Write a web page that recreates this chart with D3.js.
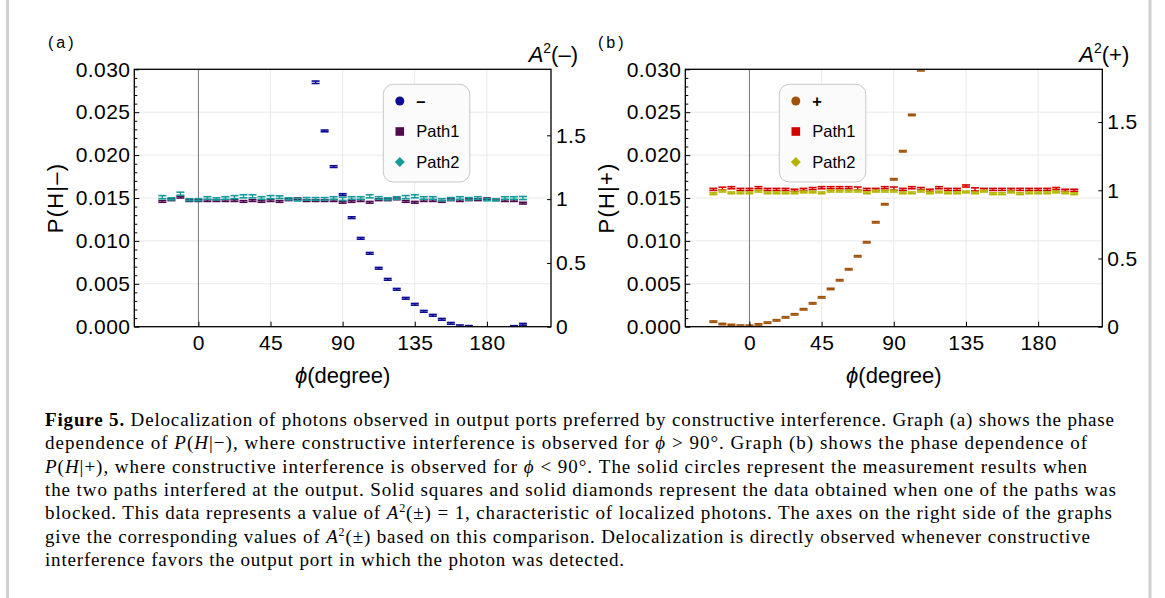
<!DOCTYPE html>
<html>
<head>
<meta charset="utf-8">
<script src="https://cdn.jsdelivr.net/npm/d3@7"></script>
<style>
  body { margin: 0; background: #fff; }
  svg text { font-family: "Liberation Sans", Arial, sans-serif; }
</style>
</head>
<body>
<div class="figure"></div>
<script>
'use strict';

// phase settings (degrees)
var phi = [-22.5, -16.875, -11.25, -5.625, 0, 5.625, 11.25, 16.875, 22.5, 28.125,
  33.75, 39.375, 45, 50.625, 56.25, 61.875, 67.5, 73.125, 78.75, 84.375,
  90, 95.625, 101.25, 106.875, 112.5, 118.125, 123.75, 129.375, 135, 140.625,
  146.25, 151.875, 157.5, 163.125, 168.75, 174.375, 180, 185.625, 191.25, 196.875,
  202.5];

// panel (a): P(H|-)
var minusVals = [null, null, null, null, null, null, null, null, null, null,
  null, null, null, null, null, null, null, 0.02849, 0.02282, 0.01866,
  0.01540, 0.01271, 0.01030, 0.00855, 0.00681, 0.00552, 0.00436, 0.00331, 0.00261, 0.00179,
  0.00133, 0.00086, 0.00039, 0.00010, 0.00003, null, null, null, null, 0.00002,
  0.00028];
var minusErr = [0.0001, 0.0001, 0.0001, 0.0001, 0.0001, 0.0001, 0.0001, 0.0001, 0.0001, 0.0001,
  0.0001, 0.0001, 0.0001, 0.0001, 0.0001, 0.0001, 0.0001, 0.00014, 0.0001, 0.0001,
  0.0001, 0.0001, 0.0001, 0.0001, 0.0001, 0.0001, 0.0001, 0.0001, 0.0001, 0.0001,
  0.0001, 0.0001, 0.0001, 0.0001, 0.0001, 0.0001, 0.0001, 0.0001, 0.0001, 0.0001,
  0.0001];
var path1A = [0.0146, 0.0148, 0.0151, 0.0147, 0.0147, 0.0147, 0.0147, 0.0147, 0.0147, 0.0146,
  0.0147, 0.0146, 0.0147, 0.0146, 0.0148, 0.0149, 0.0147, 0.0147, 0.0147, 0.0147,
  0.0145, 0.0146, 0.0147, 0.0145, 0.0148, 0.0148, 0.0149, 0.0146, 0.0145, 0.0147,
  0.0147, 0.0146, 0.0148, 0.0147, 0.0148, 0.0148, 0.0149, 0.0148, 0.0147, 0.0147,
  0.0144];
var path1AErr = [0.0001, 0.0001, 0.0001, 0.0001, 0.0001, 0.0001, 0.0001, 0.0001, 0.0001, 0.0001,
  0.0001, 0.0001, 0.0001, 0.0001, 0.0001, 0.0001, 0.0001, 0.0001, 0.0001, 0.0001,
  0.0001, 0.0001, 0.0001, 0.0001, 0.0001, 0.0001, 0.0001, 0.0001, 0.0001, 0.0001,
  0.0001, 0.0001, 0.0001, 0.0001, 0.0001, 0.0001, 0.0001, 0.0001, 0.0001, 0.0001,
  0.0001];
var path2A = [0.0151, 0.0149, 0.0155, 0.0148, 0.0148, 0.0150, 0.0149, 0.0150, 0.0151, 0.0152,
  0.0152, 0.0150, 0.0151, 0.0151, 0.0149, 0.0148, 0.0149, 0.0149, 0.0149, 0.0150,
  0.0149, 0.0150, 0.0150, 0.0152, 0.0150, 0.0149, 0.0150, 0.0151, 0.0152, 0.0150,
  0.0150, 0.0148, 0.0149, 0.0150, 0.0149, 0.0150, 0.0148, 0.0148, 0.0150, 0.0150,
  0.0150];
var path2AErr = [0.00018, 0.00012, 0.00018, 0.00012, 0.00012, 0.00015, 0.00012, 0.00015, 0.00018, 0.00018,
  0.00018, 0.00015, 0.00018, 0.00015, 0.00012, 0.00015, 0.00015, 0.00015, 0.00015, 0.00015,
  0.00018, 0.00015, 0.00015, 0.00018, 0.00015, 0.00012, 0.00015, 0.00018, 0.00018, 0.00015,
  0.00015, 0.00012, 0.00015, 0.00015, 0.00015, 0.00015, 0.00012, 0.00012, 0.00015, 0.00015,
  0.00018];

// panel (b): P(H|+)
var plusVals = [0.00059, 0.00031, 0.00020, 0.00012, 0.00011, 0.00027, 0.00047, 0.00074, 0.00109, 0.00144,
  0.00203, 0.00272, 0.00342, 0.00440, 0.00541, 0.00669, 0.00821, 0.00984, 0.01217, 0.01427,
  0.01718, 0.02045, 0.02468, 0.02989, null, null, null, null, null, null,
  null, null, null, null, null, null, null, null, null, null,
  null];
var plusErr = [0.00008, 0.00008, 0.00008, 0.00008, 0.00008, 0.00008, 0.00008, 0.00008, 0.00008, 0.00008,
  0.00008, 0.00008, 0.00008, 0.00008, 0.00008, 0.00008, 0.00008, 0.00008, 0.00008, 0.00008,
  0.00008, 0.00008, 0.00008, 0.00008, 0.00008, 0.00008, 0.00008, 0.00008, 0.00008, 0.00008,
  0.00008, 0.00008, 0.00008, 0.00008, 0.00008, 0.00008, 0.00008, 0.00008, 0.00008, 0.00008,
  0.00008];
var path1B = [0.0160, 0.0161, 0.0162, 0.0160, 0.0160, 0.0162, 0.0160, 0.0160, 0.0160, 0.0159,
  0.0160, 0.0161, 0.0162, 0.0162, 0.0162, 0.0162, 0.0161, 0.0160, 0.0160, 0.0162,
  0.0161, 0.0160, 0.0162, 0.0161, 0.0159, 0.0162, 0.0160, 0.0160, 0.0164, 0.0160,
  0.0160, 0.0160, 0.0160, 0.0160, 0.0160, 0.0160, 0.0160, 0.0160, 0.0161, 0.0159,
  0.0159];
var path1BErr = [0.00012, 0.00016, 0.00012, 0.00012, 0.00012, 0.00012, 0.00012, 0.00012, 0.00012, 0.00012,
  0.00012, 0.00012, 0.00012, 0.00012, 0.00012, 0.00012, 0.00018, 0.00012, 0.00012, 0.00012,
  0.00018, 0.00012, 0.00012, 0.00012, 0.00012, 0.00012, 0.00012, 0.00012, 0.00012, 0.00018,
  0.00012, 0.00012, 0.00012, 0.00012, 0.00012, 0.00012, 0.00012, 0.00012, 0.00012, 0.00012,
  0.00012];
var path2B = [0.0155, 0.0158, 0.0156, 0.0156, 0.0156, 0.0158, 0.0156, 0.0156, 0.0156, 0.0156,
  0.0157, 0.0157, 0.0156, 0.0158, 0.0158, 0.0158, 0.0158, 0.0156, 0.0158, 0.0158,
  0.0158, 0.0156, 0.0156, 0.0158, 0.0156, 0.0157, 0.0156, 0.0156, 0.0157, 0.0156,
  0.0158, 0.0155, 0.0155, 0.0157, 0.0155, 0.0156, 0.0156, 0.0156, 0.0157, 0.0156,
  0.0155];
var path2BErr = [0.0001, 0.0001, 0.0001, 0.0001, 0.0001, 0.0001, 0.0001, 0.0001, 0.0001, 0.0001,
  0.0001, 0.0001, 0.0001, 0.0001, 0.0001, 0.0001, 0.0001, 0.0001, 0.0001, 0.0001,
  0.0001, 0.0001, 0.0001, 0.0001, 0.0001, 0.0001, 0.0001, 0.0001, 0.0001, 0.0001,
  0.0001, 0.0001, 0.0001, 0.0001, 0.0001, 0.0001, 0.0001, 0.0001, 0.0001, 0.0001,
  0.0001];

// axes
var phiDomain = [-40, 220];
var phiTicks = [0, 45, 90, 135, 180];
var probDomain = [0, 0.030];
var probTicks = [0, 0.005, 0.010, 0.015, 0.020, 0.025, 0.030];
var ampTicks = [0, 0.5, 1, 1.5];
var normA = 0.01487;   // P value that corresponds to A^2(-) = 1
var normB = 0.0159;    // P value that corresponds to A^2(+) = 1

var legendA = ['\u2013', 'Path1', 'Path2'];
var legendB = ['+', 'Path1', 'Path2'];

// caption lines: [text, style] segments
var captionLines = [
  [['Figure 5.', 'b'], [' Delocalization of photons observed in output ports preferred by constructive interference. Graph (a) shows the phase', '']],
  [['dependence of ', ''], ['P', 'i'], ['(', ''], ['H', 'i'], ['|\u2212), where constructive interference is observed for ', ''], ['\u03d5', 'i'], [' > 90\u00b0. Graph (b) shows the phase dependence of', '']],
  [['P', 'i'], ['(', ''], ['H', 'i'], ['|+), where constructive interference is observed for ', ''], ['\u03d5', 'i'], [' < 90\u00b0. The solid circles represent the measurement results when', '']],
  [['the two paths interfered at the output. Solid squares and solid diamonds represent the data obtained when one of the paths was', '']],
  [['blocked. This data represents a value of ', ''], ['A', 'i'], ['2', 's'], ['(\u00b1) = 1, characteristic of localized photons. The axes on the right side of the graphs', '']],
  [['give the corresponding values of ', ''], ['A', 'i'], ['2', 's'], ['(\u00b1) based on this comparison. Delocalization is directly observed whenever constructive', '']],
  [['interference favors the output port in which the photon was detected.', '']]
];
var captionWidths = [1069, 1042, 1042, 1071, 1067, 1045, 579];

(function() {
  var W = 1165;
  var H = 598;
  var top = 69.3;
  var bottom = 326.7;
  var capW = 8;
  var capT = 1.6;

  var svg = d3.select('.figure')
    .append('svg')
    .attr('width', W)
    .attr('height', H);

  // figure frame
  svg.append('line').attr('x1', 7.5).attr('x2', 7.5).attr('y1', 0).attr('y2', H)
    .attr('stroke', '#d0d0d0').attr('stroke-width', 3);
  svg.append('line').attr('x1', 1150).attr('x2', 1150).attr('y1', 0).attr('y2', H)
    .attr('stroke', '#d0d0d0').attr('stroke-width', 3);

  var drawSeries = function(g, x, y, vals, errs, color) {
    var pts = phi.map(function(p, i) {
      return { x: p, v: vals[i], e: errs[i] };
    }).filter(function(d) { return d.v !== null; });

    var s = g.append('g').attr('fill', color)
      .selectAll('g')
      .data(pts)
      .enter()
      .append('g');

    s.append('rect')
      .attr('x', function(d) { return x(d.x) - capW / 2; })
      .attr('y', function(d) { return y(d.v + d.e) - capT / 2; })
      .attr('width', capW)
      .attr('height', capT);
    s.append('rect')
      .attr('x', function(d) { return x(d.x) - capW / 2; })
      .attr('y', function(d) { return y(d.v - d.e) - capT / 2; })
      .attr('width', capW)
      .attr('height', capT);
    s.append('rect')
      .attr('x', function(d) { return x(d.x) - 0.7; })
      .attr('y', function(d) { return y(d.v + d.e); })
      .attr('width', 1.4)
      .attr('height', function(d) { return y(d.v - d.e) - y(d.v + d.e); });
  };

  var drawPanel = function(cfg) {
    var x = d3.scaleLinear().domain(phiDomain).range([cfg.left, cfg.right]);
    var y = d3.scaleLinear().domain(probDomain).range([bottom, top]);
    var yA = d3.scaleLinear().domain([0, probDomain[1] / cfg.norm]).range([bottom, top]);

    var g = svg.append('g');

    // grid
    g.append('g').selectAll('line')
      .data(phiTicks.filter(function(d) { return d !== 0; }))
      .enter().append('line')
      .attr('x1', x).attr('x2', x)
      .attr('y1', top).attr('y2', bottom)
      .attr('stroke', '#e9e9e9').attr('stroke-width', 1);
    g.append('g').selectAll('line')
      .data(probTicks.slice(1, -1))
      .enter().append('line')
      .attr('x1', cfg.left).attr('x2', cfg.right)
      .attr('y1', y).attr('y2', y)
      .attr('stroke', '#e9e9e9').attr('stroke-width', 1);
    // phi = 0 line
    g.append('line')
      .attr('x1', x(0)).attr('x2', x(0))
      .attr('y1', top).attr('y2', bottom)
      .attr('stroke', '#777').attr('stroke-width', 1);

    // data
    var clipId = 'clip-' + cfg.name;
    svg.append('clipPath').attr('id', clipId)
      .append('rect')
      .attr('x', cfg.left).attr('y', top)
      .attr('width', cfg.right - cfg.left).attr('height', bottom - top);
    var data = g.append('g').attr('clip-path', 'url(#' + clipId + ')');
    drawSeries(data, x, y, cfg.p1, cfg.p1Err, cfg.colors[1]);
    drawSeries(data, x, y, cfg.p2, cfg.p2Err, cfg.colors[2]);
    drawSeries(data, x, y, cfg.main, cfg.mainErr, cfg.colors[0]);

    // axes
    var fmt = d3.format('.3f');
    var yAxis = g.append('g')
      .attr('transform', 'translate(' + cfg.left + ',0)')
      .call(d3.axisLeft(y).tickValues(probTicks).tickSize(-5).tickPadding(4).tickFormat(fmt));
    g.append('g')
      .attr('transform', 'translate(' + cfg.left + ',0)')
      .call(d3.axisLeft(y)
        .tickValues(d3.range(0, 31).map(function(i) { return i / 1000; })
          .filter(function(v, i) { return i % 5 !== 0; }))
        .tickSize(-3).tickFormat(''));
    var xAxis = g.append('g')
      .attr('transform', 'translate(0,' + bottom + ')')
      .call(d3.axisBottom(x).tickValues(phiTicks).tickSize(-5).tickPadding(8));
    var aAxis = g.append('g')
      .attr('transform', 'translate(' + cfg.right + ',0)')
      .call(d3.axisRight(yA).tickValues(ampTicks).tickSize(-4).tickPadding(5)
        .tickFormat(function(d) { return String(d); }));

    g.selectAll('.domain').remove();
    g.selectAll('.tick line').attr('stroke', '#000');
    [yAxis, xAxis, aAxis].forEach(function(a) {
      a.selectAll('text')
        .attr('fill', '#000')
        .style('font-size', '21px')
        .style('letter-spacing', '0.4px');
    });

    // frame
    g.append('rect')
      .attr('x', cfg.left).attr('y', top)
      .attr('width', cfg.right - cfg.left).attr('height', bottom - top)
      .attr('fill', 'none').attr('stroke', '#000').attr('stroke-width', 1.3);

    // titles
    g.append('text')
      .attr('transform', 'translate(' + cfg.yTitleX + ',' + ((top + bottom) / 2) + ') rotate(-90)')
      .attr('text-anchor', 'middle')
      .attr('dy', '0.35em')
      .style('font-size', '22px')
      .style('letter-spacing', '1.2px')
      .text(cfg.yTitle);

    var xt = g.append('text')
      .attr('x', (cfg.left + cfg.right) / 2)
      .attr('y', 383)
      .attr('text-anchor', 'middle')
      .style('font-size', '22px');
    xt.append('tspan').style('font-style', 'italic').text('\u03d5');
    xt.append('tspan').text('(degree)');

    var at = g.append('text')
      .attr('x', cfg.right + 27)
      .attr('y', 62)
      .attr('text-anchor', 'end')
      .style('font-size', '22px');
    at.append('tspan').style('font-style', 'italic').text('A');
    at.append('tspan').attr('dy', -9).style('font-size', '14px').text('2');
    at.append('tspan').attr('dy', 9).text(cfg.aSign);

    g.append('text')
      .attr('x', cfg.tagX)
      .attr('y', 48)
      .style('font-size', '16px')
      .style('letter-spacing', '3px')
      .text(cfg.tag);

    // legend
    var lg = g.append('g');
    lg.append('rect')
      .attr('x', cfg.legendX).attr('y', 84.3)
      .attr('width', 86.5).attr('height', 97.7)
      .attr('rx', 10)
      .attr('fill', '#fbfbfb').attr('stroke', '#c8c8c8').attr('stroke-width', 1);
    var items = lg.selectAll('g.item')
      .data(cfg.legend)
      .enter().append('g')
      .attr('class', 'item')
      .attr('transform', function(d, i) {
        return 'translate(' + (cfg.legendX + 16.5) + ',' + (101 + i * 30.5) + ')';
      });
    items.each(function(d, i) {
      var it = d3.select(this);
      if (i === 0) {
        it.append('circle').attr('r', 4.5).attr('fill', cfg.colors[0]);
      } else if (i === 1) {
        it.append('rect').attr('x', -4.3).attr('y', -4.3).attr('width', 8.6).attr('height', 8.6)
          .attr('fill', cfg.colors[1]);
      } else {
        it.append('path').attr('d', 'M0,-5L5,0L0,5L-5,0Z').attr('fill', cfg.colors[2]);
      }
    });
    items.append('text')
      .attr('x', 16.5)
      .attr('dy', '0.35em')
      .style('font-size', '16.5px')
      .style('font-weight', function(d, i) { return i === 0 ? 'bold' : 'normal'; })
      .text(function(d) { return d; });
  };

  drawPanel({
    name: 'a', left: 134.3, right: 551, norm: normA,
    main: minusVals, mainErr: minusErr, p1: path1A, p1Err: path1AErr, p2: path2A, p2Err: path2AErr,
    colors: ['#0b0b96', '#4e0b4f', '#169b9b'],
    yTitle: 'P(H|\u2013)', yTitleX: 55, aSign: '(\u2013)', tag: '(a)', tagX: 48,
    legend: legendA, legendX: 383.3
  });
  drawPanel({
    name: 'b', left: 685.3, right: 1102.3, norm: normB,
    main: plusVals, mainErr: plusErr, p1: path1B, p1Err: path1BErr, p2: path2B, p2Err: path2BErr,
    colors: ['#a0520a', '#d40000', '#b4b400'],
    yTitle: 'P(H|+)', yTitleX: 606, aSign: '(+)', tag: '(b)', tagX: 598,
    legend: legendB, legendX: 779.3
  });

  // caption
  var cap = svg.append('g')
    .style('font-size', '19px');
  captionLines.forEach(function(line, i) {
    var t = cap.append('text')
      .attr('x', 45)
      .attr('y', 426 + i * 23.3)
      .attr('textLength', captionWidths[i])
      .attr('lengthAdjust', 'spacing')
      .style('font-family', '"Liberation Serif", "Times New Roman", serif');
    var prev = '';
    line.forEach(function(seg) {
      var sp = t.append('tspan').text(seg[0]);
      if (seg[1] === 'b') sp.style('font-weight', 'bold');
      if (seg[1] === 'i') sp.style('font-style', 'italic');
      if (seg[1] === 's') sp.attr('dy', -7).style('font-size', '12px');
      if (prev === 's') sp.attr('dy', 7);
      prev = seg[1];
    });
  });
})();
</script>
</body>
</html>
